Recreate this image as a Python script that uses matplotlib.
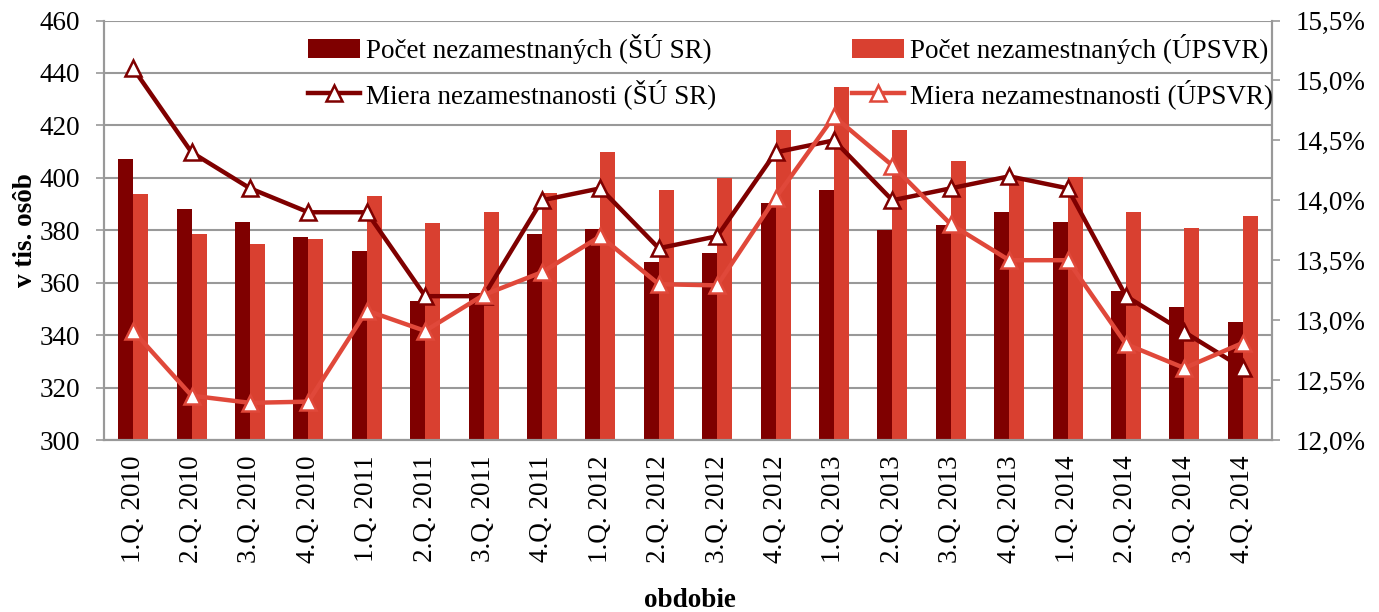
import numpy as np
import matplotlib
matplotlib.use("Agg")
import matplotlib.pyplot as plt
from matplotlib.ticker import FuncFormatter

plt.rcParams['font.family'] = ['Liberation Serif', 'DejaVu Serif']

periods = ["1.Q. 2010", "2.Q. 2010", "3.Q. 2010", "4.Q. 2010",
           "1.Q. 2011", "2.Q. 2011", "3.Q. 2011", "4.Q. 2011",
           "1.Q. 2012", "2.Q. 2012", "3.Q. 2012", "4.Q. 2012",
           "1.Q. 2013", "2.Q. 2013", "3.Q. 2013", "4.Q. 2013",
           "1.Q. 2014", "2.Q. 2014", "3.Q. 2014", "4.Q. 2014"]

# pocet nezamestnanych (v tis. osob)
count_su = [407.2, 388.2, 383.2, 377.5, 372.2, 353.2, 356.2, 378.6,
            380.6, 368.0, 371.4, 390.4, 395.4, 380.2, 382.1, 386.8,
            383.1, 356.7, 350.8, 345.1]
count_upsvr = [393.9, 378.5, 374.6, 376.8, 393.2, 382.6, 387.0, 394.2,
               409.7, 395.4, 400.1, 418.4, 434.7, 418.4, 406.4, 400.0,
               400.4, 386.8, 381.0, 385.6]

# miera nezamestnanosti (%)
rate_su = [15.1, 14.4, 14.1, 13.9, 13.9, 13.2, 13.2, 14.0,
           14.1, 13.6, 13.7, 14.4, 14.5, 14.0, 14.1, 14.2,
           14.1, 13.2, 12.9, 12.6]
rate_upsvr = [12.91, 12.37, 12.31, 12.32, 13.08, 12.91, 13.21, 13.40,
              13.70, 13.30, 13.29, 14.02, 14.70, 14.29, 13.80, 13.50,
              13.50, 12.80, 12.60, 12.81]

dark = '#7f0000'
light = '#d94030'
light_line = '#e0483a'
grid = '#999999'
fs = 19.5

fig = plt.figure(figsize=(13.79, 6.12), dpi=100)
ax = fig.add_axes([104/1379, 1 - 440/612, 1168/1379, 419.5/612])
ax2 = ax.twinx()

x = np.arange(len(periods))
w = 0.257
b1 = ax.bar(x - w/2, np.array(count_su) - 300, w, bottom=300, color=dark,
            label='Počet nezamestnaných (ŠÚ SR)', zorder=2)
b2 = ax.bar(x + w/2, np.array(count_upsvr) - 300, w, bottom=300, color=light,
            label='Počet nezamestnaných (ÚPSVR)', zorder=2)

l1, = ax2.plot(x, rate_su, color=dark, lw=3.2, marker='^', ms=12,
               mfc='white', mec=dark, mew=1.8, zorder=3,
               label='Miera nezamestnanosti (ŠÚ SR)')
l2, = ax2.plot(x, rate_upsvr, color=light_line, lw=3.2, marker='^', ms=12,
               mfc='white', mec=light_line, mew=1.8, zorder=4,
               label='Miera nezamestnanosti (ÚPSVR)')

ax.set_xlim(-0.5, len(periods) - 0.5)
ax.set_ylim(300, 460)
ax.set_yticks(np.arange(300, 461, 20))
ax2.set_ylim(12.0, 15.5)
ax2.set_yticks(np.arange(12.0, 15.51, 0.5))
ax2.yaxis.set_major_formatter(FuncFormatter(lambda v, p: f"{v:.1f}%".replace('.', ',')))

ax.yaxis.grid(True, color=grid, lw=1.5, zorder=0)
ax.set_axisbelow(True)

ax.set_xticks(x)
ax.set_xticklabels(periods, rotation=90, fontsize=fs)
ax.tick_params(axis='x', length=0, pad=11)
ax.tick_params(axis='y', labelsize=fs, length=6, width=1.2, color=grid, pad=11)
ax2.tick_params(axis='y', labelsize=fs, length=6, width=1.2, color=grid, pad=11)

for a in (ax, ax2):
    for s in a.spines.values():
        s.set_color(grid)
        s.set_linewidth(1.5)
ax.spines['top'].set_visible(False)
ax2.spines['top'].set_visible(False)

ax.set_ylabel('v tis. osôb', fontsize=fs, fontweight='bold', labelpad=1)
ax.set_xlabel('obdobie', fontsize=fs, fontweight='bold')
ax.xaxis.set_label_coords(0.502, -0.352)

leg = ax2.legend(handles=[b1, l1, b2, l2], ncol=2, frameon=False, fontsize=fs,
                 loc='upper left', bbox_to_anchor=(308/1379, 1 - 34/612),
                 bbox_transform=fig.transFigure, handlelength=1.93,
                 handletextpad=0.22, columnspacing=5.0, labelspacing=0.55,
                 borderaxespad=0, borderpad=0)
leg.set_zorder(5)

fig.savefig('out.png', dpi=100)
